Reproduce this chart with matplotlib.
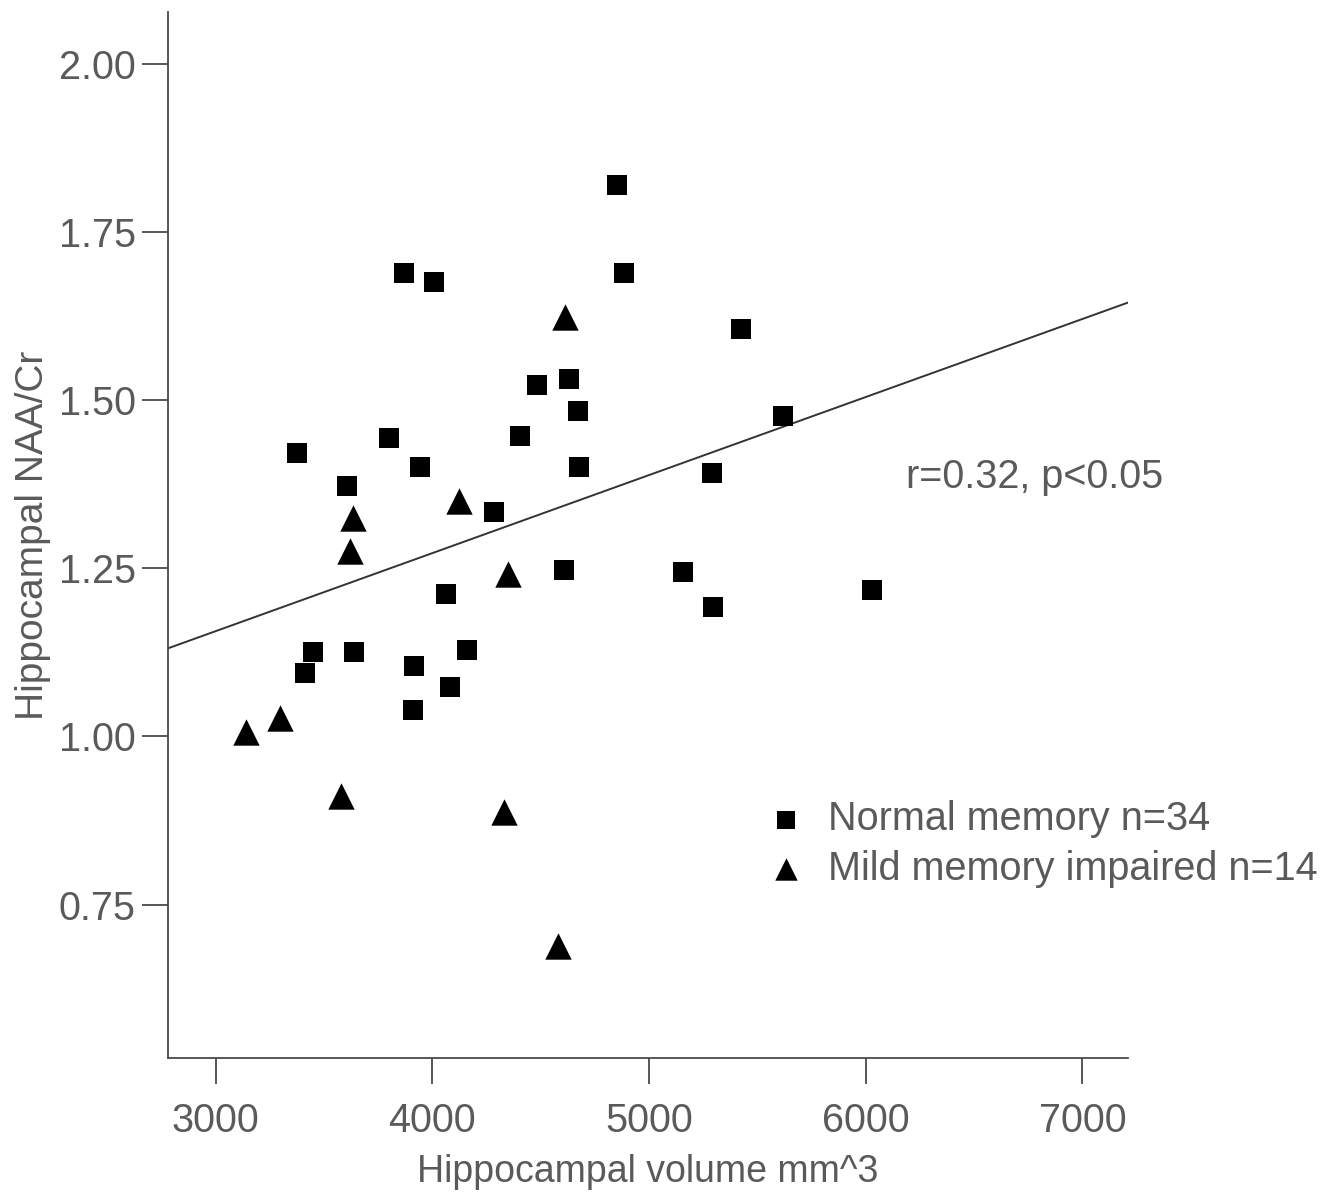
import numpy as np
import matplotlib
matplotlib.use("Agg")
import matplotlib.pyplot as plt

plt.rcParams['font.family'] = ['Liberation Sans', 'DejaVu Sans']

# Normal memory group (squares)
normal_vol = [4850, 3868, 4006, 4885, 5425, 4481, 4632, 4671, 3800, 4405,
              3941, 4675, 5617, 5289, 4283, 4606, 5155, 4061, 3374, 3604,
              3448, 3411, 3637, 4158, 3914, 4080, 3909, 5297, 6027]
normal_naa = [1.820, 1.689, 1.675, 1.689, 1.605, 1.523, 1.532, 1.484, 1.444, 1.446,
              1.400, 1.401, 1.477, 1.392, 1.333, 1.248, 1.245, 1.212, 1.421, 1.372,
              1.125, 1.095, 1.126, 1.129, 1.105, 1.073, 1.040, 1.193, 1.218]

# Mild memory impaired group (triangles)
mild_vol = [4610, 4121, 4347, 3632, 3618, 3295, 3138, 3577, 4329, 4578]
mild_naa = [1.623, 1.350, 1.242, 1.325, 1.276, 1.027, 1.007, 0.911, 0.887, 0.689]

# fit line
fit_x = [2780, 7210]
fit_y = [1.131, 1.645]

xticks = [3000, 4000, 5000, 6000, 7000]
yticks = [0.75, 1.00, 1.25, 1.50, 1.75, 2.00]

gray = '#4a4a4a'
txt = '#5a5a5a'

fig = plt.figure(figsize=(13.36, 11.97), dpi=100)
ax = fig.add_axes([0.1257, 0.1161, 0.7186, 0.8739])

ax.scatter(normal_vol, normal_naa, marker='s', s=15**2, color='black',
           linewidths=0, label='Normal memory n=34', zorder=3)
ax.scatter(mild_vol, mild_naa, marker='^', s=19**2, color='black',
           linewidths=0, label='Mild memory impaired n=14', zorder=3)
ax.plot(fit_x, fit_y, color='#333333', lw=1.4, zorder=2)

ax.set_xlim(2780, 7210)
ax.set_ylim(0.522, 2.077)
ax.set_xticks(xticks)
ax.set_yticks(yticks)
ax.set_yticklabels([f"{v:.2f}" for v in yticks])

for s in ['top', 'right']:
    ax.spines[s].set_visible(False)
for s in ['left', 'bottom']:
    ax.spines[s].set_color(gray)
    ax.spines[s].set_linewidth(1.3)

ax.tick_params(axis='both', direction='out', length=19, width=1.3,
               color=gray, labelsize=28.5, labelcolor=txt)
ax.tick_params(axis='x', pad=13)
ax.tick_params(axis='y', pad=4)

ax.set_xlabel('Hippocampal volume mm^3', fontsize=27, color=txt, labelpad=10)
ax.set_ylabel('Hippocampal NAA/Cr', fontsize=28, color=txt, labelpad=6)

ax.text(0.769, 0.555, 'r=0.32, p<0.05', transform=ax.transAxes,
        fontsize=28.5, color=txt, va='center', ha='left')

leg = ax.legend(loc='center left', bbox_to_anchor=(0.623, 0.2046), frameon=False,
                fontsize=28.5, handlelength=1.0, handletextpad=0.56,
                borderpad=0, borderaxespad=0, labelspacing=0.28, markerscale=0.85)
for t in leg.get_texts():
    t.set_color(txt)

fig.savefig('out.png', dpi=100)
